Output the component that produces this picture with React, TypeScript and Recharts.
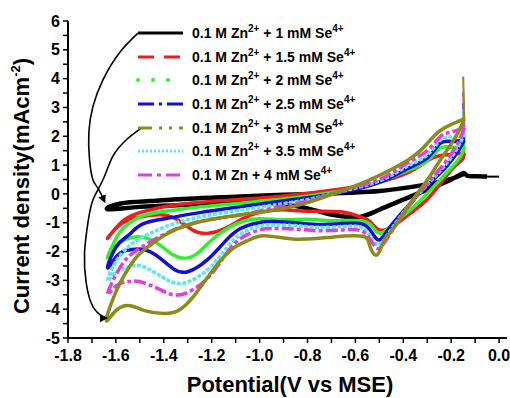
import React from 'react';
import { LineChart, Line, XAxis, YAxis, Legend } from 'recharts';

// potential axis: labels on every 0.2 V, minor ticks every 0.1 V
const xTicks = [-1.8, -1.7, -1.6, -1.5, -1.4, -1.3, -1.2, -1.1, -1.0, -0.9, -0.8, -0.7, -0.6, -0.5, -0.4, -0.3, -0.2, -0.1, 0.0];
const yTicks = [-5, -4.5, -4, -3.5, -3, -2.5, -2, -1.5, -1, -0.5, 0, 0.5, 1, 1.5, 2, 2.5, 3, 3.5, 4, 4.5, 5, 5.5, 6];

// scans in recording order: [potential V, current density mA/cm2]
// first point of each scan is the start-up spike
const se1: number[][] = [
  [0.0, 0.6], [-0.05, 0.6], [-0.1, 0.61], [-0.135, 0.64], [-0.15, 0.72],
  [-0.2, 0.5], [-0.3, 0.15], [-0.4, -0.2], [-0.5, -0.55], [-0.58, -0.8], [-0.65, -0.78], [-0.72, -0.68],
  [-0.8, -0.5], [-0.9, -0.36], [-1.0, -0.3], [-1.1, -0.3], [-1.3, -0.38], [-1.5, -0.45], [-1.635, -0.53],
  [-1.58, -0.33], [-1.46, -0.25], [-1.3, -0.17], [-1.1, -0.1], [-0.9, -0.03], [-0.7, 0.02],
  [-0.6, 0.05], [-0.5, 0.1], [-0.4, 0.2], [-0.3, 0.33], [-0.2, 0.52], [-0.15, 0.68],
];
const se15: number[][] = [
  [-0.15, 1.6], [-0.145, 1.42], [-0.155, 1.18], [-0.2, 0.83], [-0.29, -0.1], [-0.37, -0.67], [-0.44, -1.1],
  [-0.5, -1.25], [-0.54, -0.95], [-0.58, -0.8], [-0.66, -0.62], [-0.8, -0.6], [-0.9, -0.55], [-1.0, -0.64],
  [-1.08, -0.9], [-1.15, -1.22], [-1.22, -1.37], [-1.28, -1.25], [-1.35, -0.86], [-1.42, -0.72], [-1.5, -0.8],
  [-1.58, -1.05], [-1.635, -1.54],
  [-1.6, -1.18], [-1.55, -0.82], [-1.5, -0.65], [-1.42, -0.48], [-1.3, -0.33], [-1.1, -0.2],
  [-0.9, -0.07], [-0.66, 0.17], [-0.52, 0.37], [-0.385, 0.72], [-0.3, 1.15], [-0.245, 1.33], [-0.18, 1.39], [-0.145, 1.42],
];
const se2: number[][] = [
  [-0.15, 2.0], [-0.145, 1.64], [-0.16, 1.3], [-0.2, 0.9], [-0.25, 0.45], [-0.3, 0.02], [-0.35, -0.4], [-0.4, -0.75],
  [-0.45, -1.1], [-0.5, -1.37], [-0.54, -1.05], [-0.6, -0.92], [-0.7, -0.93], [-0.8, -0.88], [-0.9, -0.9],
  [-1.0, -0.86], [-1.1, -1.05], [-1.2, -1.6], [-1.25, -2.0], [-1.3, -2.22], [-1.36, -2.12], [-1.42, -1.75],
  [-1.49, -1.5], [-1.55, -1.55], [-1.6, -1.82], [-1.635, -2.2],
  [-1.6, -1.55], [-1.57, -1.2], [-1.5, -0.8], [-1.39, -0.6], [-1.25, -0.45], [-1.08, -0.32],
  [-0.9, -0.18], [-0.66, 0.1], [-0.5, 0.42], [-0.385, 0.8], [-0.3, 1.15], [-0.245, 1.59], [-0.2, 1.62], [-0.145, 1.64],
];
const se25: number[][] = [
  [-0.15, 3.15], [-0.145, 1.87], [-0.17, 1.5], [-0.22, 0.95], [-0.28, 0.45], [-0.34, -0.05], [-0.4, -0.6],
  [-0.46, -1.2], [-0.5, -1.6], [-0.53, -1.35], [-0.57, -1.05], [-0.65, -1.03], [-0.75, -1.06], [-0.85, -1.0],
  [-0.95, -0.96], [-1.0, -0.99], [-1.08, -1.2], [-1.15, -1.7], [-1.22, -2.3], [-1.3, -2.7], [-1.36, -2.6],
  [-1.42, -2.2], [-1.49, -1.92], [-1.56, -1.97], [-1.6, -2.2], [-1.635, -2.56],
  [-1.6, -1.85], [-1.55, -1.45], [-1.49, -1.05], [-1.39, -0.85], [-1.25, -0.65], [-1.08, -0.45],
  [-0.95, -0.3], [-0.8, -0.13], [-0.66, 0.05], [-0.5, 0.4], [-0.385, 0.87], [-0.3, 1.25], [-0.245, 1.76], [-0.2, 1.82], [-0.145, 1.87],
];
const se3: number[][] = [
  [-0.15, 4.07], [-0.145, 2.6], [-0.18, 2.0], [-0.245, 1.18], [-0.29, 0.6], [-0.33, 0.14], [-0.4, -0.67],
  [-0.45, -1.3], [-0.48, -1.6], [-0.51, -2.12], [-0.54, -1.8], [-0.57, -1.47], [-0.7, -1.5], [-0.85, -1.57],
  [-0.98, -1.45], [-1.05, -1.62], [-1.12, -1.95], [-1.2, -2.7], [-1.28, -3.6], [-1.34, -4.05], [-1.4, -4.15],
  [-1.48, -4.05], [-1.54, -3.88], [-1.6, -4.05], [-1.64, -4.38],
  [-1.6, -3.4], [-1.56, -2.75], [-1.515, -2.2], [-1.46, -1.8], [-1.39, -1.4], [-1.3, -1.08],
  [-1.2, -0.88], [-1.08, -0.72], [-0.93, -0.55], [-0.8, -0.3], [-0.66, 0.1], [-0.54, 0.49], [-0.38, 1.18],
  [-0.3, 1.75], [-0.245, 2.2], [-0.18, 2.48], [-0.145, 2.6],
];
const se35: number[][] = [
  [-0.15, 2.95], [-0.145, 2.1], [-0.17, 1.65], [-0.22, 1.05], [-0.28, 0.5], [-0.34, -0.05], [-0.4, -0.65],
  [-0.46, -1.35], [-0.505, -1.77], [-0.54, -1.45], [-0.58, -1.15], [-0.65, -1.13], [-0.75, -1.16], [-0.85, -1.1],
  [-0.95, -1.08], [-1.0, -1.12], [-1.08, -1.4], [-1.15, -2.0], [-1.22, -2.65], [-1.32, -3.1], [-1.4, -2.92],
  [-1.47, -2.58], [-1.52, -2.48], [-1.57, -2.6], [-1.61, -2.8], [-1.635, -3.0],
  [-1.6, -2.35], [-1.55, -1.85], [-1.5, -1.55], [-1.39, -1.13], [-1.25, -0.8], [-1.08, -0.56],
  [-0.95, -0.4], [-0.8, -0.2], [-0.66, 0.08], [-0.5, 0.45], [-0.385, 0.95], [-0.3, 1.35], [-0.245, 1.87], [-0.2, 1.98], [-0.145, 2.1],
];
const se4: number[][] = [
  [-0.15, 3.55], [-0.145, 2.3], [-0.17, 1.8], [-0.22, 1.15], [-0.28, 0.55], [-0.34, -0.05], [-0.4, -0.7],
  [-0.46, -1.45], [-0.505, -1.89], [-0.54, -1.55], [-0.58, -1.27], [-0.65, -1.25], [-0.75, -1.28], [-0.85, -1.22],
  [-0.95, -1.2], [-1.0, -1.25], [-1.08, -1.55], [-1.15, -2.2], [-1.22, -2.95], [-1.33, -3.5], [-1.42, -3.3],
  [-1.5, -3.05], [-1.55, -3.04], [-1.6, -3.2], [-1.635, -3.48],
  [-1.6, -2.8], [-1.55, -2.2], [-1.49, -1.83], [-1.39, -1.37], [-1.25, -0.96], [-1.08, -0.73],
  [-0.95, -0.5], [-0.8, -0.25], [-0.66, 0.1], [-0.5, 0.5], [-0.385, 1.06], [-0.3, 1.5], [-0.245, 1.99], [-0.2, 2.15], [-0.145, 2.3],
];

// hand-drawn arrows from the legend down to the curves
const arrowTop: number[][] = [
  [-1.508, 5.58], [-1.585, 4.9], [-1.654, 3.96], [-1.696, 3.03], [-1.713, 2.12], [-1.71, 1.18],
  [-1.696, 0.49], [-1.675, 0.2], [-1.647, -0.27],
];
const arrowBottom: number[][] = [
  [-1.494, 2.28], [-1.556, 1.88], [-1.613, 1.3], [-1.654, 0.49], [-1.696, -0.21], [-1.717, -1.01],
  [-1.731, -2.05], [-1.724, -3.09], [-1.696, -3.91], [-1.654, -4.26], [-1.64, -4.31],
];

const seriesNames = ['1', '1.5', '2', '2.5', '3', '3.5', '4'];
const seriesData = [se1, se15, se2, se25, se3, se35, se4];
const colors = ['#000000', '#ee1c1c', '#2ef02e', '#1010d0', '#8b8b1a', '#5ce6f0', '#e23de2'];
const legendDash = ['', '16 10', '0 15', '16 5 3 5', '14 7 3 7 3 7', '2 2', '14 5 4 5'];
const curveDash = ['', '', '', '', '', '4 1.5', '12 3 4 3'];
const drawOrder = [0, 1, 2, 3, 5, 6, 4];

const toPoints = (arr: number[][]) => arr.map(([x, y]) => ({ x, y }));

const tickFont = { fontFamily: 'Liberation Sans, Arial, sans-serif', fontWeight: 700, fontSize: 16, fill: '#000' };

const XTick = (props: any) => {
  const { x, y, payload } = props;
  const v = payload.value;
  if (Math.abs(Math.round(v * 5) - v * 5) > 1e-6) return null;
  return (
    <text x={x} y={y} dy="0.71em" textAnchor="middle" style={tickFont}>
      {v.toFixed(1)}
    </text>
  );
};

const YTick = (props: any) => {
  const { x, y, payload } = props;
  const v = payload.value;
  if (!Number.isInteger(v)) return null;
  return (
    <text x={x} y={y} dy="0.355em" textAnchor="end" style={tickFont}>
      {v}
    </text>
  );
};

const supStyle = { fontSize: 10, verticalAlign: 'baseline', position: 'relative' as const, top: -6 };

const LegendBox = () => (
  <div style={{ fontFamily: 'Liberation Sans, Arial, sans-serif', fontWeight: 700, fontSize: 14, color: '#000' }}>
    {seriesNames.map((c, i) => (
      <div key={c} style={{ display: 'flex', alignItems: 'center', height: 23.6, whiteSpace: 'nowrap' }}>
        <svg width={50} height={8} style={{ marginRight: 6 }}>
          <line x1={2} y1={4} x2={47} y2={4} stroke={colors[i]} strokeWidth={i === 2 ? 4 : 3}
            strokeDasharray={legendDash[i] || undefined} strokeLinecap={i === 2 ? 'round' : 'butt'} />
        </svg>
        <span>
          0.1 M Zn
          {i < 6 && <sup style={supStyle}>2+</sup>}
          {' + '}{c} mM Se
          <sup style={supStyle}>4+</sup>
        </span>
      </div>
    ))}
  </div>
);

export default function App() {
  return (
    <div style={{ position: 'absolute', left: 0, top: 0, width: 510, height: 398, background: '#fff' }}>
      <LineChart width={510} height={398} margin={{ top: 21, right: 3, bottom: 0, left: 0 }}>
        <defs>
          <marker id="arrowHead" viewBox="0 0 10 10" refX="8" refY="5" markerWidth="5" markerHeight="5" orient="auto">
            <path d="M0,0 L10,5 L0,10 z" fill="#000" />
          </marker>
        </defs>
        <XAxis xAxisId="b" type="number" dataKey="x" domain={[-1.8, 0.033]} allowDataOverflow ticks={xTicks}
          tick={<XTick />} tickSize={5} tickMargin={7} height={60} interval={0}
          axisLine={{ stroke: '#000', strokeWidth: 2 }} tickLine={{ stroke: '#000', strokeWidth: 1.5 }} />
        <XAxis xAxisId="t" orientation="top" type="number" dataKey="x" domain={[-1.8, 0.033]} allowDataOverflow
          tick={false} tickLine={false} height={0} axisLine={{ stroke: '#000', strokeWidth: 2 }} />
        <YAxis yAxisId="l" type="number" domain={[-5, 6]} ticks={yTicks} tick={<YTick />} tickSize={5} tickMargin={3}
          width={68} interval={0} allowDataOverflow
          axisLine={{ stroke: '#000', strokeWidth: 2 }} tickLine={{ stroke: '#000', strokeWidth: 1.5 }} />
        <YAxis yAxisId="r" orientation="right" type="number" domain={[-5, 6]} tick={false} tickLine={false} width={0}
          axisLine={{ stroke: '#000', strokeWidth: 2 }} />
        <Legend layout="vertical" align="center" verticalAlign="middle" content={<LegendBox />}
          wrapperStyle={{ left: 136, top: 21.5, width: 240 }} />
        {drawOrder.map((i) => (
          <Line key={'spike' + i} xAxisId="b" yAxisId="l" data={toPoints(seriesData[i].slice(0, 2))} dataKey="y"
            type="linear" stroke={colors[i]} strokeWidth={2} dot={false} activeDot={false} legendType="none"
            isAnimationActive={false} />
        ))}
        {drawOrder.map((i) => (
          <Line key={seriesNames[i]} xAxisId="b" yAxisId="l" data={toPoints(seriesData[i].slice(1))} dataKey="y"
            type="natural" stroke={colors[i]} strokeWidth={i === 0 ? 4.5 : 3.5} strokeLinejoin="round"
            strokeDasharray={curveDash[i] || undefined}
            dot={false} activeDot={false} legendType="none" isAnimationActive={false} />
        ))}
        {[arrowTop, arrowBottom].map((a, k) => (
          <Line key={'arrow' + k} xAxisId="b" yAxisId="l" data={toPoints(a)} dataKey="y" type="natural"
            stroke="#000" strokeWidth={1.6} dot={false} activeDot={false} legendType="none"
            markerEnd="url(#arrowHead)" isAnimationActive={false} />
        ))}
      </LineChart>
      <div style={{ position: 'absolute', left: 290, top: 374, transform: 'translateX(-50%)', whiteSpace: 'nowrap',
        fontFamily: 'Liberation Sans, Arial, sans-serif', fontWeight: 700, fontSize: 22, lineHeight: '22px' }}>
        Potential(V vs MSE)
      </div>
      <div style={{ position: 'absolute', left: 23, top: 186, transform: 'translate(-50%, -50%) rotate(-90deg)',
        whiteSpace: 'nowrap', fontFamily: 'Liberation Sans, Arial, sans-serif', fontWeight: 700, fontSize: 22,
        lineHeight: '22px' }}>
        Current density(mAcm<sup style={{ fontSize: 13, verticalAlign: 'baseline', position: 'relative', top: -9 }}>-2</sup>)
      </div>
    </div>
  );
}
